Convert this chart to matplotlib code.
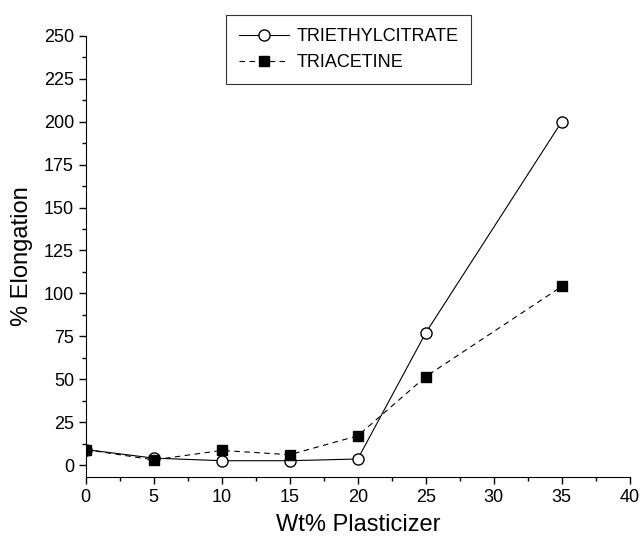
import numpy as np
import matplotlib
matplotlib.use("Agg")
import matplotlib.pyplot as plt
from matplotlib.ticker import MultipleLocator

plt.rcParams["font.family"] = ["Liberation Sans", "DejaVu Sans"]

# データ
wt = [0, 5, 10, 15, 20, 25, 35]
tec = [9, 4, 2.5, 2.5, 3.5, 77, 200]       # TRIETHYLCITRATE
tri = [9, 3, 8.5, 6, 17, 51.5, 104]        # TRIACETINE

fig = plt.figure(figsize=(6.4, 5.43), dpi=100)
ax = fig.add_axes([0.134, 0.1215, 0.85, 0.8125])

ax.plot(wt, tec, "-", color="black", lw=0.8, marker="o", ms=8,
        mfc="white", mec="black", mew=1.0, label="TRIETHYLCITRATE")
ax.plot(wt, tri, "--", color="black", lw=0.8, dashes=(5, 4), marker="s", ms=7,
        mfc="black", mec="black", label="TRIACETINE")

ax.set_xlim(0, 40)
ax.set_ylim(-7, 250)
ax.xaxis.set_major_locator(MultipleLocator(5))
ax.xaxis.set_minor_locator(MultipleLocator(2.5))
ax.yaxis.set_major_locator(MultipleLocator(25))
ax.yaxis.set_minor_locator(MultipleLocator(12.5))
ax.set_yticks(np.arange(0, 251, 25))
ax.tick_params(which="major", direction="out", length=5, width=1, labelsize=13)
ax.tick_params(which="minor", direction="out", length=3, width=1)

for s in ["top", "right"]:
    ax.spines[s].set_visible(False)
ax.spines["left"].set_bounds(-7, 250)

ax.set_xlabel("Wt% Plasticizer", fontsize=17, labelpad=6)
ax.set_ylabel("% Elongation", fontsize=17, labelpad=8)

leg = ax.legend(loc="upper left", bbox_to_anchor=(0.353, 0.972),
                bbox_transform=fig.transFigure, fontsize=13, frameon=True,
                fancybox=False, edgecolor="black", handlelength=2.8,
                borderpad=0.7, labelspacing=0.5, borderaxespad=0,
                handletextpad=0.4)
leg.get_frame().set_linewidth(0.8)

fig.savefig("out.png", dpi=100)
